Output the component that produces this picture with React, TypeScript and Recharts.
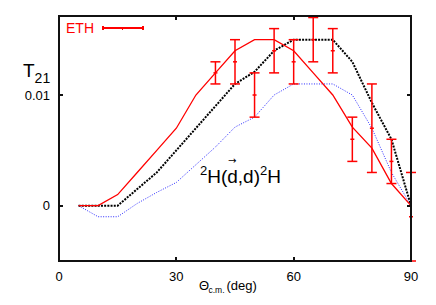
import React from "react";
import {
  ComposedChart,
  Line,
  Scatter,
  ErrorBar,
  XAxis,
  YAxis,
} from "recharts";

// theory curves, sampled every 5 degrees
const angles = [5, 10, 15, 20, 25, 30, 35, 40, 45, 50, 55, 60, 65, 70, 75, 80, 85, 90];
const redCurve = [0, 0, 0.001, 0.003, 0.005, 0.007, 0.01, 0.012, 0.014, 0.015, 0.015, 0.014, 0.012, 0.01, 0.0071, 0.0052, 0.002, 0];
const blackCurve = [0, 0, 0, 0.0015, 0.003, 0.005, 0.007, 0.009, 0.011, 0.0121, 0.014, 0.015, 0.015, 0.015, 0.013, 0.0093, 0.006, 0];
const blueCurve = [0, -0.001, -0.001, 0.0002, 0.0012, 0.0021, 0.0037, 0.0053, 0.0071, 0.008, 0.01, 0.011, 0.011, 0.011, 0.01, 0.007, 0.003, 0];

// ETH measurements
const ethAngles = [40, 45, 50, 55, 60, 65, 70, 75, 80, 85, 90];
const ethValues = [0.012, 0.013, 0.01, 0.014, 0.013, 0.015, 0.014, 0.006, 0.007, 0.004, -0.001];
const ethErrors = [0.001, 0.002, 0.002, 0.002, 0.002, 0.002, 0.002, 0.002, 0.004, 0.002, 0.004];

const xTicks = [0, 30, 60, 90];
const yTicks = [0, 0.01];
const X_MIN = 0;
const X_MAX = 90;
const Y_MIN = -0.005;
const Y_MAX = 0.01714;

const curveData = angles.map((a, i) => ({
  angle: a,
  red: redCurve[i],
  black: blackCurve[i],
  blue: blueCurve[i],
}));

const ethData = ethAngles.map((a, i) => ({
  angle: a,
  eth: ethValues[i],
  err: ethErrors[i],
}));

const W = 436;
const H = 305;
const MARGIN = { top: 16, right: 25, bottom: 14, left: 19 };
const Y_AXIS_W = 40;
const X_AXIS_H = 30;

// plot box, same numbers recharts uses for its offset
const PL = MARGIN.left + Y_AXIS_W;
const PT = MARGIN.top;
const PW = W - PL - MARGIN.right;
const PH = H - PT - MARGIN.bottom - X_AXIS_H;
const sx = (v: number) => PL + ((v - X_MIN) / (X_MAX - X_MIN)) * PW;
const sy = (v: number) => PT + ((Y_MAX - v) / (Y_MAX - Y_MIN)) * PH;

const FONT = "'Liberation Sans', Arial, sans-serif";
const RED = "#ff0000";
const INK = "#111111";
const GAP = 8; // recharts default tickSize + tickMargin

function BottomTick(props: any) {
  const { x, y, payload } = props;
  return (
    <text x={x} y={y - GAP + 19.5} textAnchor="middle" fontSize={13} fontFamily={FONT} fill="#000">
      {payload.value}
    </text>
  );
}

function LeftTick(props: any) {
  const { x, y, payload } = props;
  return (
    <text x={x + GAP - 9} y={y + 4.5} textAnchor="end" fontSize={13} fontFamily={FONT} fill="#000">
      {String(payload.value)}
    </text>
  );
}

function EthPoint(props: any) {
  const { cx, cy } = props;
  if (cx == null || cy == null) return null;
  return <line x1={cx - 2} x2={cx + 2} y1={cy} y2={cy} stroke={RED} strokeWidth={1.5} />;
}

// plain html text placed by its baseline (line-height 1)
function Txt({ x, base, size, color = "#000", family = FONT, children }: any) {
  return (
    <div
      style={{
        position: "absolute",
        left: x,
        top: base - size * 0.8465,
        fontSize: size,
        lineHeight: 1,
        fontFamily: family,
        color,
        whiteSpace: "nowrap",
      }}
    >
      {children}
    </div>
  );
}

function Box({ x, y, w, h, color = INK }: any) {
  return (
    <div
      style={{
        position: "absolute",
        left: x,
        top: y,
        width: w,
        height: h,
        background: color,
        zIndex: 5,
      }}
    />
  );
}

export default function App() {
  const innerX = xTicks.filter((t) => t > X_MIN && t < X_MAX);
  return (
    <div style={{ position: "absolute", left: 0, top: 0, width: W, height: H, background: "#fff" }}>
      <div style={{ position: "absolute", left: 0, top: 0 }}>
        <ComposedChart width={W} height={H} data={curveData} margin={MARGIN}>
          <XAxis
            dataKey="angle"
            type="number"
            domain={[X_MIN, X_MAX]}
            ticks={xTicks}
            height={X_AXIS_H}
            axisLine={false}
            tickLine={false}
            tick={<BottomTick />}
          />
          <YAxis
            type="number"
            domain={[Y_MIN, Y_MAX]}
            ticks={yTicks}
            width={Y_AXIS_W}
            axisLine={false}
            tickLine={false}
            tick={<LeftTick />}
          />
          <Line
            type="linear"
            dataKey="blue"
            stroke="#2a2aff"
            strokeWidth={1}
            strokeDasharray="1 1.5"
            dot={false}
            isAnimationActive={false}
          />
          <Line
            type="linear"
            dataKey="black"
            stroke="#000"
            strokeWidth={2}
            strokeDasharray="2 1.2"
            dot={false}
            isAnimationActive={false}
          />
          <Line
            type="linear"
            dataKey="red"
            stroke={RED}
            strokeWidth={1.3}
            dot={false}
            isAnimationActive={false}
          />
          <Scatter data={ethData} dataKey="eth" shape={<EthPoint />} isAnimationActive={false}>
            <ErrorBar dataKey="err" direction="y" width={5} stroke={RED} strokeWidth={1.5} />
          </Scatter>
        </ComposedChart>
      </div>

      {/* frame and mirrored inward ticks, on top of the chart */}
      <Box x={PL - 1} y={PT - 1} w={PW + 2} h={2} />
      <Box x={PL - 1} y={PT + PH - 1} w={PW + 2} h={2} />
      <Box x={PL - 1} y={PT - 1} w={2} h={PH + 2} />
      <Box x={PL + PW - 1} y={PT - 1} w={2} h={PH + 2} />
      {innerX.map((t) => (
        <React.Fragment key={`x${t}`}>
          <Box x={sx(t) - 1} y={PT} w={2} h={4} />
          <Box x={sx(t) - 1} y={PT + PH - 4} w={2} h={4} />
        </React.Fragment>
      ))}
      {yTicks.map((t) => (
        <React.Fragment key={`y${t}`}>
          <Box x={PL} y={sy(t) - 1} w={4} h={2} />
          <Box x={PL + PW - 4} y={sy(t) - 1} w={4} h={2} />
        </React.Fragment>
      ))}

      {/* legend */}
      <Txt x={66} base={33} size={14} color={RED}>ETH</Txt>
      <Box x={103} y={27.4} w={40} h={1.3} color={RED} />
      <Box x={102.4} y={26} w={1.3} h={4} color={RED} />
      <Box x={142.4} y={26} w={1.3} h={4} color={RED} />
      <Box x={121.9} y={26.5} w={1.3} h={3} color={RED} />

      {/* y title */}
      <Txt x={23} base={77} size={19}>T</Txt>
      <Txt x={34.6} base={83} size={14}>21</Txt>

      {/* x title */}
      <Txt x={199} base={290} size={13}>Θ</Txt>
      <Txt x={208.5} base={293} size={8.5}>c.m.</Txt>
      <Txt x={226.5} base={290} size={13}>(deg)</Txt>

      {/* reaction label */}
      <Txt x={200} base={175.5} size={13}>2</Txt>
      <Txt x={207.2} base={183.5} size={19}>H(d,d)</Txt>
      <Txt x={260} base={175.5} size={13}>2</Txt>
      <Txt x={267.2} base={183.5} size={19}>H</Txt>
      <Txt x={228} base={164.5} size={10} family="'DejaVu Sans', sans-serif">→</Txt>
    </div>
  );
}
